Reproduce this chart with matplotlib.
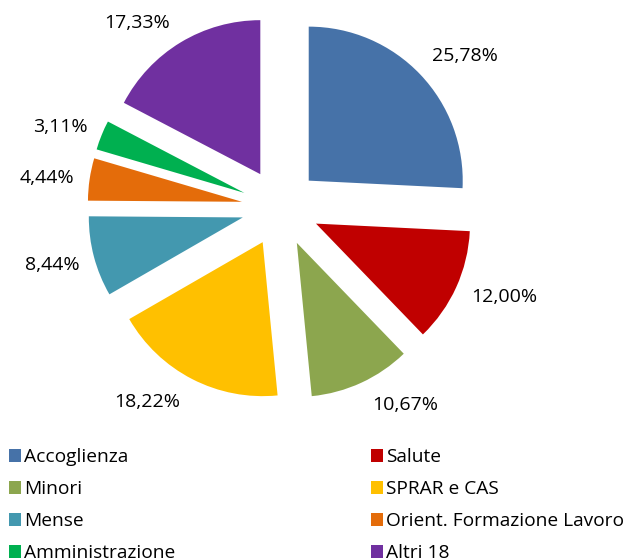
import numpy as np
import matplotlib
matplotlib.use("Agg")
import matplotlib.pyplot as plt

plt.rcParams['font.family'] = ['Open Sans', 'DejaVu Sans']

categories = ["Accoglienza", "Salute", "Minori", "SPRAR e CAS", "Mense",
              "Orient. Formazione Lavoro", "Amministrazione", "Altri 18"]
values = [25.78, 12.00, 10.67, 18.22, 8.44, 4.44, 3.11, 17.33]
colors = ["#4672A8", "#C00000", "#8CA64E", "#FFC000", "#4398AF",
          "#E46C0A", "#00B050", "#7030A0"]
labels = [f"{v:.2f}%".replace(".", ",") for v in values]

# Excel-like label placement: distance from pie centre (radius units)
# and angular nudge from the wedge bisector (degrees)
label_r = [1.55, 1.565, 1.515, 1.53, 1.53, 1.53, 1.52, 1.52]
label_nudge = [-4.2, 2.6, 7.4, -7.1, -0.7, 1.2, 2.0, 6.7]
EXPLODE = 0.253

fig = plt.figure(figsize=(6.3, 5.58), dpi=100)
ax = fig.add_axes([0, 0, 1, 1])

R = 154.0  # radius in pixels
cx, cy = 280.5, 207.5  # pie centre in pixels (from top-left)

wedges, texts = ax.pie(values, colors=colors, labels=labels, startangle=90,
                       counterclock=False, explode=[EXPLODE] * len(values),
                       radius=1.0, textprops=dict(fontsize=14, color="#000000"))
for w, t, lr, nd in zip(wedges, texts, label_r, label_nudge):
    ang = np.deg2rad((w.theta1 + w.theta2) / 2 + nd)
    t.set_position((lr * np.cos(ang), lr * np.sin(ang)))
    t.set_ha("center")
    t.set_va("center")

ax.set_xlim(-cx / R, (630 - cx) / R)
ax.set_ylim((cy - 558) / R, cy / R)
ax.set_aspect("auto")
ax.axis("off")

# legend, two columns, row-major like the original
left = [wedges[i] for i in (0, 2, 4, 6)]
right = [wedges[i] for i in (1, 3, 5, 7)]
common = dict(frameon=False, fontsize=13.75, handlelength=0.65, handleheight=0.65,
              handletextpad=0.12, labelspacing=0.74, borderpad=0, borderaxespad=0,
              loc="upper left")
fig.legend(left, [categories[i] for i in (0, 2, 4, 6)],
           bbox_to_anchor=(9 / 630, 1 - 448 / 558), **common)
fig.legend(right, [categories[i] for i in (1, 3, 5, 7)],
           bbox_to_anchor=(371 / 630, 1 - 448 / 558), **common)

fig.savefig("out.png", dpi=100)
